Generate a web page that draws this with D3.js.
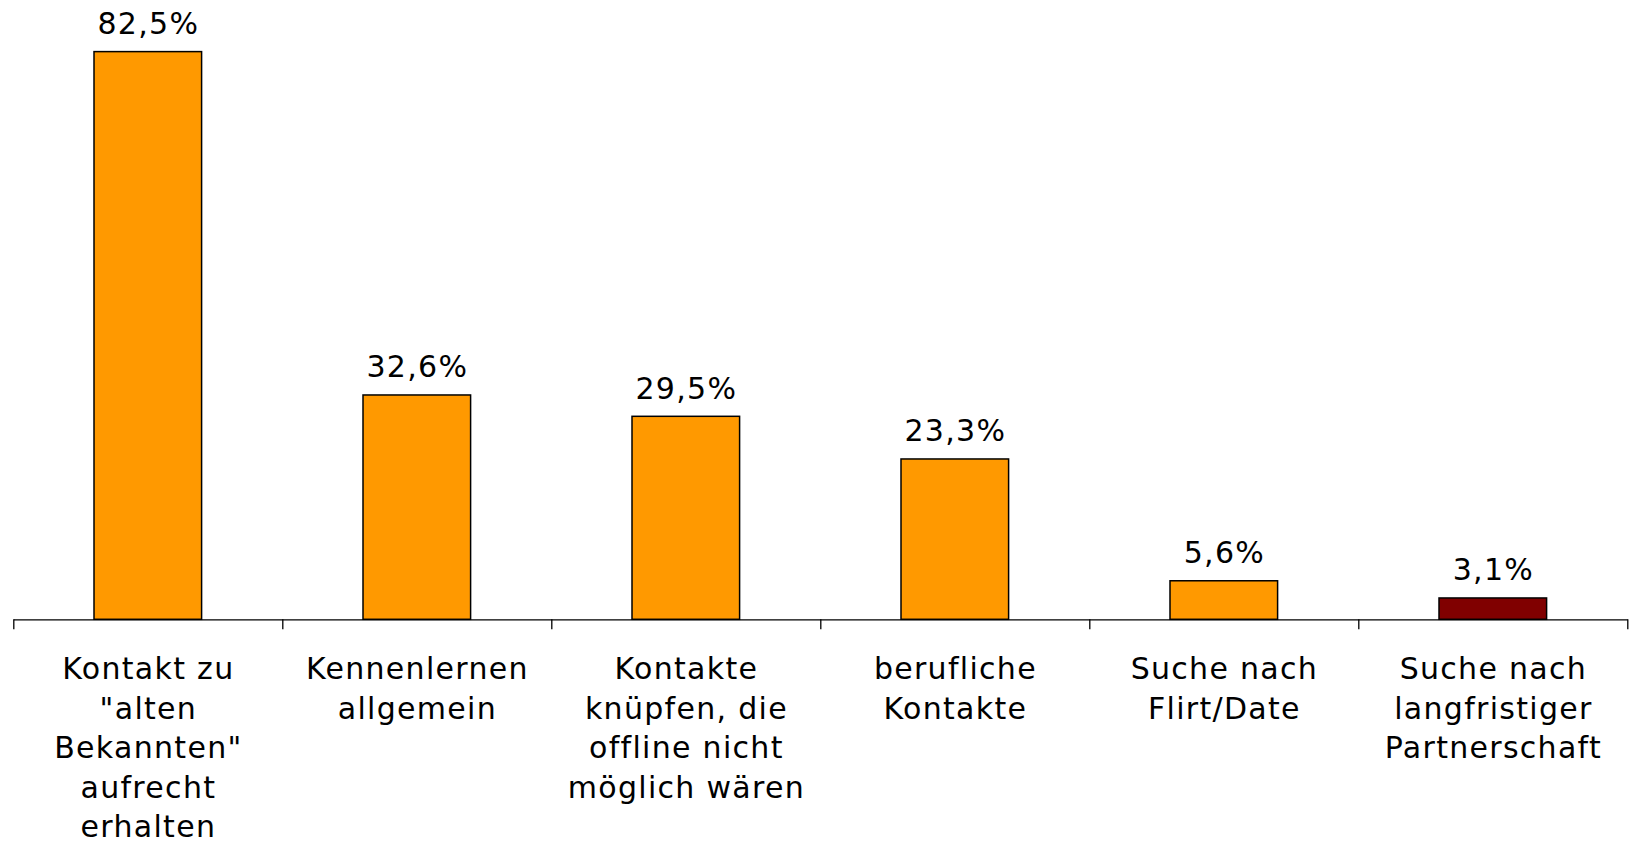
<!DOCTYPE html>
<html lang="de">
<head>
<meta charset="utf-8">
<script src="https://cdn.jsdelivr.net/npm/d3@7"></script>
<style>
  body { margin: 0; background: #fff; }
  svg { display: block; font-family: "DejaVu Sans", Verdana, sans-serif; letter-spacing: 1.3px; }
</style>
</head>
<body>
<script>
  // data
  const categories = ["kontakt", "kennen", "offline", "beruf", "flirt", "partner"];
  const values = [82.5, 32.6, 29.5, 23.3, 5.6, 3.1];
  const valueLabels = ["82,5%", "32,6%", "29,5%", "23,3%", "5,6%", "3,1%"];
  const tickLabels = [
    ["Kontakt zu", "\"alten", "Bekannten\"", "aufrecht", "erhalten"],
    ["Kennenlernen", "allgemein"],
    ["Kontakte", "knüpfen, die", "offline nicht", "möglich wären"],
    ["berufliche", "Kontakte"],
    ["Suche nach", "Flirt/Date"],
    ["Suche nach", "langfristiger", "Partnerschaft"]
  ];
  const barColors = ["#FF9900", "#FF9900", "#FF9900", "#FF9900", "#FF9900", "#800000"];

  const w = 1629, h = 842;
  const left = 13.3, right = 1627.3, base = 619.3;

  const svg = d3.select("body").append("svg")
    .attr("width", w)
    .attr("height", h);

  const x = d3.scaleBand()
    .domain(categories)
    .range([left, right])
    .paddingInner(0.6)
    .paddingOuter(0.3);

  // ticks sit between categories, like the original
  const xEdges = d3.scaleLinear()
    .domain([0, categories.length])
    .range([left, right]);

  const y = d3.scaleLinear()
    .domain([0, 90])
    .range([base, 0]);

  svg.selectAll("rect.bar")
    .data(values)
    .enter()
    .append("rect")
    .attr("class", "bar")
    .attr("x", (d, i) => x(categories[i]))
    .attr("y", d => y(d))
    .attr("width", x.bandwidth())
    .attr("height", d => base - y(d))
    .attr("fill", (d, i) => barColors[i])
    .attr("stroke", "#000")
    .attr("stroke-width", 1.5);

  svg.selectAll("text.val")
    .data(values)
    .enter()
    .append("text")
    .attr("class", "val")
    .attr("x", (d, i) => x(categories[i]) + x.bandwidth() / 2 + 0.6)
    .attr("y", d => y(d) - 17.5)
    .attr("text-anchor", "middle")
    .attr("font-size", 30)
    .attr("fill", "#000")
    .text((d, i) => valueLabels[i]);

  const xAxis = d3.axisBottom(xEdges)
    .tickValues(d3.range(categories.length + 1))
    .tickSize(10)
    .tickSizeOuter(0)
    .tickFormat("");

  const gx = svg.append("g")
    .attr("transform", "translate(0," + base + ")")
    .call(xAxis);
  gx.selectAll("path, line").attr("stroke", "#000").attr("stroke-width", 1.3);

  const labels = svg.selectAll("text.cat")
    .data(tickLabels)
    .enter()
    .append("text")
    .attr("class", "cat")
    .attr("text-anchor", "middle")
    .attr("font-size", 30)
    .attr("fill", "#000");

  labels.each(function(lines, i) {
    const cx = x(categories[i]) + x.bandwidth() / 2 + 0.6;
    d3.select(this).selectAll("tspan")
      .data(lines)
      .enter()
      .append("tspan")
      .attr("x", cx)
      .attr("y", (l, j) => base + 59.7 + j * 39.5)
      .text(l => l);
  });
</script>
</body>
</html>
